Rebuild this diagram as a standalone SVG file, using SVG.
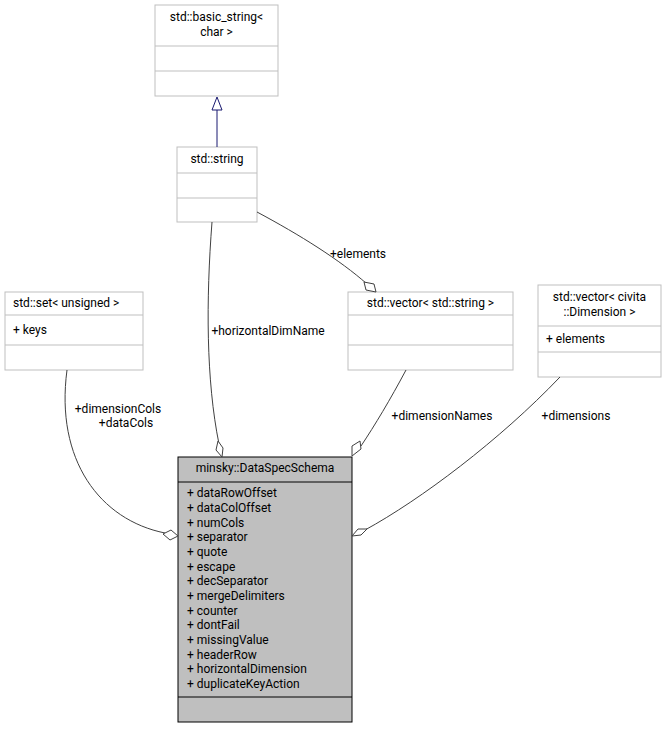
<svg xmlns="http://www.w3.org/2000/svg" width="667" height="729" viewBox="0 0 667 729">
<style>
text{font-family:Roboto,"Liberation Sans",sans-serif;font-size:12px;fill:#000}
.b{fill:#fff;stroke:#bfbfbf;stroke-width:1}
.m{fill:#bfbfbf;stroke:#000;stroke-width:1}
.e{fill:none;stroke:#404040;stroke-width:1}
.d{fill:#fff;stroke:#404040;stroke-width:1}
</style>
<rect width="667" height="729" fill="#fff"/>
<g id="basic_string">
<rect class="b" x="155" y="5" width="123" height="91"/>
<line class="b" x1="155" y1="46" x2="278" y2="46"/><line class="b" x1="155" y1="71" x2="278" y2="71"/>
<text x="216.5" y="21" text-anchor="middle">std::basic_string&lt;</text>
<text x="216.5" y="36" text-anchor="middle">char &gt;</text>
</g>
<g id="string">
<rect class="b" x="177" y="147" width="80" height="75"/>
<line class="b" x1="177" y1="173" x2="257" y2="173"/><line class="b" x1="177" y1="198" x2="257" y2="198"/>
<text x="217" y="163" text-anchor="middle">std::string</text>
</g>
<g id="set">
<rect class="b" x="5" y="292" width="138" height="78"/>
<line class="b" x1="5" y1="315" x2="143" y2="315"/><line class="b" x1="5" y1="345" x2="143" y2="345"/>
<text x="13" y="307">std::set&lt; unsigned &gt;</text>
<text x="13" y="334">+ keys</text>
</g>
<g id="vector_string">
<rect class="b" x="348" y="292" width="165" height="78"/>
<line class="b" x1="348" y1="315" x2="513" y2="315"/><line class="b" x1="348" y1="345" x2="513" y2="345"/>
<text x="430.5" y="307" text-anchor="middle">std::vector&lt; std::string &gt;</text>
</g>
<g id="vector_civita">
<rect class="b" x="538" y="285" width="123" height="92"/>
<line class="b" x1="538" y1="326" x2="661" y2="326"/><line class="b" x1="538" y1="352" x2="661" y2="352"/>
<text x="599.5" y="301" text-anchor="middle">std::vector&lt; civita</text>
<text x="599.5" y="316" text-anchor="middle">::Dimension &gt;</text>
<text x="546" y="343">+ elements</text>
</g>
<g id="DataSpecSchema">
<rect class="m" x="178" y="457" width="174" height="265"/>
<line class="m" x1="178" y1="482" x2="352" y2="482"/><line class="m" x1="178" y1="697" x2="352" y2="697"/>
<text x="265" y="472" text-anchor="middle">minsky::DataSpecSchema</text>
<text x="187" y="497">+ dataRowOffset</text>
<text x="187" y="512">+ dataColOffset</text>
<text x="187" y="527">+ numCols</text>
<text x="187" y="541">+ separator</text>
<text x="187" y="556">+ quote</text>
<text x="187" y="571">+ escape</text>
<text x="187" y="585">+ decSeparator</text>
<text x="187" y="600">+ mergeDelimiters</text>
<text x="187" y="615">+ counter</text>
<text x="187" y="629">+ dontFail</text>
<text x="187" y="644">+ missingValue</text>
<text x="187" y="659">+ headerRow</text>
<text x="187" y="673">+ horizontalDimension</text>
<text x="187" y="688">+ duplicateKeyAction</text>
</g>
<g id="connectors">
<line x1="217" y1="147" x2="217" y2="110" stroke="#191970"/>
<polygon points="217,97 212,110 222,110" fill="#fff" stroke="#191970"/>
<path class="e" d="M212,222 C206,300 206,380 219,444"/>
<polygon class="d" points="222,457 216,450 218,441 223,448"/>
<text x="268" y="335" text-anchor="middle">+horizontalDimName</text>
<path class="e" d="M257,212 C300,235 340,260 367,284"/>
<polygon class="d" points="376,292 366,290 364,282 374,284"/>
<text x="358" y="258" text-anchor="middle">+elements</text>
<path class="e" d="M406,370 C390,400 375,425 361,446"/>
<polygon class="d" points="352,456 352,446 360,441 361,449"/>
<text x="442" y="420" text-anchor="middle">+dimensionNames</text>
<path class="e" d="M67,370 C55,460 100,520 165,533"/>
<polygon class="d" points="178,536 170,540 163,534 171,530"/>
<text x="118" y="413" text-anchor="middle">+dimensionCols</text>
<text x="126" y="427" text-anchor="middle">+dataCols</text>
<path class="e" d="M560,377 C500,440 420,500 365,530"/>
<polygon class="d" points="352,536 358,529 367,529 361,535"/>
<text x="576" y="420" text-anchor="middle">+dimensions</text>
</g>
</svg>
